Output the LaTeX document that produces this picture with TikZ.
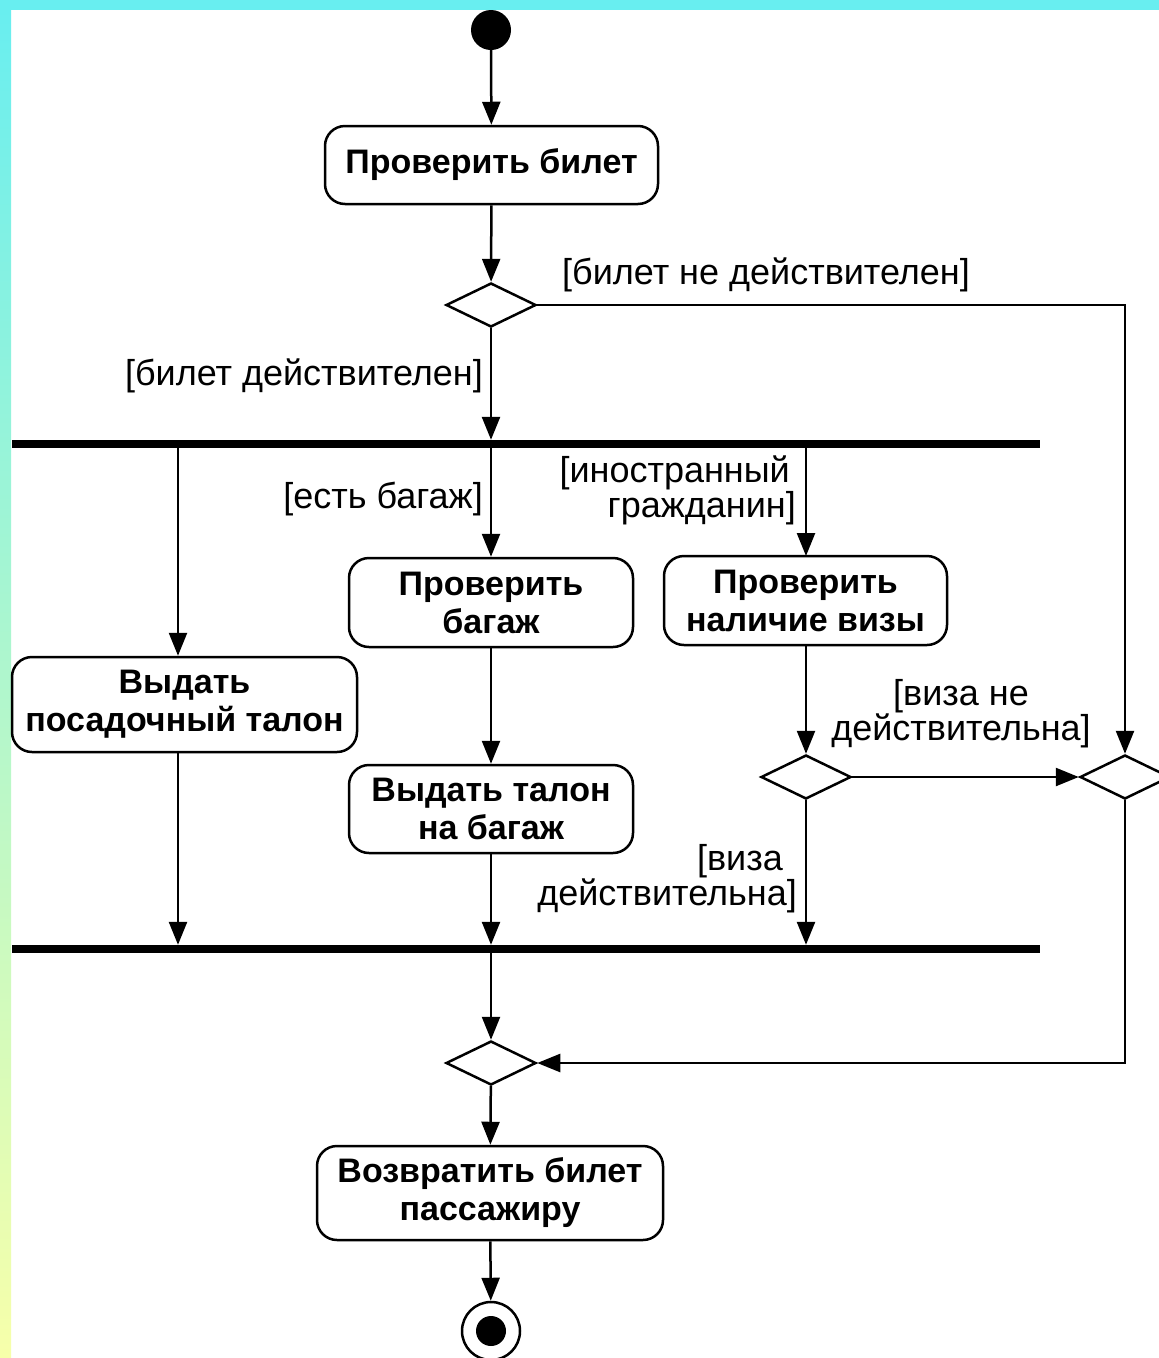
\documentclass[tikz,border=0pt]{standalone}
\usepackage{fontspec}
\setmainfont{Liberation Sans}
\usetikzlibrary{arrows.meta,shapes.geometric}
\definecolor{topcyan}{HTML}{68EEF0}
\definecolor{sideyellow}{HTML}{F7FFAA}
\tikzset{
  act/.style={draw, line width=2.5pt, rounded corners=20pt, align=center,
    font=\fontsize{34}{38}\selectfont\bfseries, inner sep=0pt},
  dec/.style={draw, diamond, line width=2.5pt, minimum width=90pt, minimum height=44pt, inner sep=0pt},
  bar/.style={fill=black, rectangle, minimum width=1028pt, minimum height=8pt, inner sep=0pt},
  lbl/.style={font=\fontsize{36}{35}\selectfont, inner sep=0pt},
  flow/.style={line width=2.5pt, -{Triangle[length=23pt,width=18pt]}},
}
\begin{document}
\begin{tikzpicture}[x=1pt,y=-1pt]
\useasboundingbox (0,0) rectangle (1159,1358);
\clip (0,0) rectangle (1159,1358);
\fill[white] (0,0) rectangle (1159,1358);
\shade[top color=topcyan, bottom color=sideyellow] (0,0) rectangle (11,1358);
\fill[topcyan] (0,0) rectangle (1159,10);

% nodes
\node[circle, fill=black, minimum size=40pt, inner sep=0pt] (start) at (491,30) {};
\node[act, minimum width=333pt, minimum height=78pt] (b1) at (491.5,165) {Проверить билет};
\node[dec] (d1) at (491,305) {};
\node[bar] (fork) at (526,444) {};
\node[act, minimum width=345pt, minimum height=95pt] (b4) at (184.5,704.5) {Выдать\\посадочный талон};
\node[act, minimum width=284pt, minimum height=89pt] (b2) at (491,602.5) {Проверить\\багаж};
\node[act, minimum width=283pt, minimum height=89pt] (b3) at (805.5,600.5) {Проверить\\наличие визы};
\node[act, minimum width=284pt, minimum height=88pt] (b5) at (491,809) {Выдать талон\\на багаж};
\node[dec] (d2) at (806,777) {};
\node[dec] (d3) at (1125,777) {};
\node[bar] (join) at (526,949) {};
\node[dec] (d4) at (491,1063) {};
\node[act, minimum width=346pt, minimum height=94pt] (b6) at (490,1193) {Возвратить билет\\пассажиру};
\node[circle, draw, line width=2.5pt, minimum size=58pt, inner sep=0pt] (final) at (491,1331) {};
\node[circle, fill=black, minimum size=30pt, inner sep=0pt] (finalin) at (final.center) {};

% labels
\node[lbl, anchor=west] (l1) at (562,275) {[билет не действителен]};
\node[lbl, anchor=east] (l2) at (483,376) {[билет действителен]};
\node[lbl, anchor=east] (l3) at (483,499) {[есть багаж]};
\node[lbl, anchor=east, align=right] (l4) at (796,490) {[иностранный\hspace*{6pt}\\гражданин]};
\node[lbl, align=center] (l5) at (961,714) {[виза не\\действительна]};
\node[lbl, anchor=east, align=right] (l6) at (797,879) {[виза\hspace*{14pt}\\действительна]};

% connectors
\coordinate (fl) at (178,448);
\draw[flow] (start) -- (b1);
\draw[flow] (b1) -- (d1);
\draw[flow] (d1.east) -| (d3.north);
\draw[flow] (d1.south) -- (d1.south |- fork.north);
\draw[flow] (fl) -- (fl |- b4.north);
\draw[flow] (b2 |- fork.south) -- (b2.north);
\draw[flow] (806,448) -- (806,556);
\draw[flow] (b2) -- (b5);
\draw[flow] (806,645) -- (d2.north);
\draw[flow] (d2.east) -- (d3.west);
\draw[flow] (d2.south) -- (d2.south |- join.north);
\draw[flow] (fl |- b4.south) -- (fl |- join.north);
\draw[flow] (b5.south) -- (b5.south |- join.north);
\draw[flow] (d4 |- join.south) -- (d4.north);
\draw[flow] (d3.south) |- (d4.east);
\draw[flow] (d4) -- (b6);
\draw[flow] (b6) -- (final);
\end{tikzpicture}
\end{document}
